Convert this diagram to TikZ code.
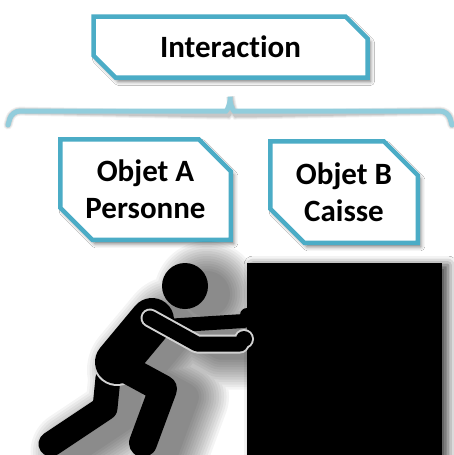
\documentclass[tikz,border=0pt]{standalone}
\usepackage{fontspec}
\setmainfont{Carlito}[Ligatures=NoCommon]
\usetikzlibrary{shapes.misc,shadows.blur}

\definecolor{frame}{HTML}{4BACC6}
\definecolor{bracecol}{HTML}{92CDDC}
\definecolor{edgeline}{HTML}{D2D2D2}

\tikzset{
  labelbox/.style={chamfered rectangle,
    chamfered rectangle corners={north east,south west},
    draw=frame, line width=4.5pt, fill=white, inner sep=0pt,
    font=\bfseries\fontsize{31}{37}\selectfont, align=center,
    blur shadow={shadow xshift=3pt, shadow yshift=-4pt,
      shadow blur radius=4pt, shadow opacity=55}},
  limb/.style={line width=#1, line cap=round, line join=round},
  bracestyle/.style={draw=bracecol, line width=5pt, line cap=round,
    rounded corners=8pt},
}

% stick figure leaning on the crate; #1 widens every stroke
\newcommand\pusherbody[1]{%
  \fill (185,286) circle[radius={23pt+#1/2}];
  \draw[limb={25pt+#1}] (108,378) -- (105,408) -- (51,444);
  \draw[limb={44pt+#1}] (152,320) -- (117,362);
  \draw[limb={28pt+#1}] (128,370) -- (163,389) -- (143,443);
  \draw[limb={14pt+#1}] (165,326) -- (244,321);
  \fill (247,315) circle[radius={7pt+#1/2}];
  \draw[limb={15pt+#1}] (150,318) -- (197,344) -- (240,344);
  \fill (244,339) circle[radius={8pt+#1/2}];
}

\begin{document}
\begin{tikzpicture}[x=1pt, y=-1pt]
  \fill[white] (0,0) rectangle (454,455);
  \useasboundingbox (0,0) rectangle (454,455);

  % top label
  \node[labelbox, minimum width=274pt, minimum height=61pt,
        chamfered rectangle sep=11pt] (inter) at (230.5,47) {Interaction};

  % brace under the label
  \coordinate (bl) at (8,125);
  \coordinate (bc) at (12,111);
  \coordinate (tip) at (230,92);
  \coordinate (brc) at (448,111);
  \coordinate (br) at (452,125);
  \def\bracepath{(bl) -- (bc) -- (218,111)
      .. controls (227,111) and (230,104) .. (tip)
      .. controls (230,104) and (233,111) .. (242,111) -- (brc) -- (br)}
  \foreach \w/\o in {9/0.06,7/0.08,5/0.10}
    \draw[line width=\w pt, rounded corners=8pt, line cap=round,
          black, opacity=\o, shift={(2,4)}] \bracepath;
  \draw[bracestyle] \bracepath;

  % the two objects
  \node[labelbox, minimum width=170.5pt, minimum height=100.5pt,
        chamfered rectangle sep=16pt] (objA) at (145.5,189.5)
        {Objet A\\Personne};
  \node[labelbox, minimum width=147.5pt, minimum height=101.5pt,
        chamfered rectangle sep=17pt] (objB) at (344,192)
        {Objet B\\Caisse};

  % crate
  \node[fill=black, minimum width=195pt, minimum height=204pt, inner sep=0pt,
        blur shadow={shadow xshift=6pt, shadow yshift=-2pt,
          shadow blur radius=9pt, shadow opacity=75}]
        (crate) at (344.5,365) {};

  % soft shadow of the figure, cast towards the crate:
  % widening silhouettes, each one faint and flattened as a group
  \foreach \w in {0,5,...,60} {
    \begin{scope}[transparency group, opacity=0.045]
      \begin{scope}[shift={(22,8)}, color=black]
        \pusherbody{\w pt}
      \end{scope}
    \end{scope}
  }

  % the figure
  \begin{scope}[color=black]
    \fill (185,286) circle[radius=23];
    \draw[limb=25pt] (108,378) -- (105,408) -- (51,444);
    \begin{scope}
      \clip (90,368) rectangle (125,395);
      \draw[limb=48pt, edgeline] (152,320) -- (117,362);
    \end{scope}
    \draw[limb=44pt] (152,320) -- (117,362);
    \draw[limb=28pt] (128,370) -- (163,389) -- (143,443);
    \draw[limb=14pt] (165,326) -- (244,321);
    \fill (247,315) circle[radius=7];
    \draw[limb=19pt, edgeline] (150,318) -- (197,344) -- (240,344);
    \fill[edgeline] (244,339) circle[radius=10];
    \draw[limb=15pt] (150,318) -- (197,344) -- (240,344);
    \fill (244,339) circle[radius=8];
  \end{scope}
\end{tikzpicture}
\end{document}
